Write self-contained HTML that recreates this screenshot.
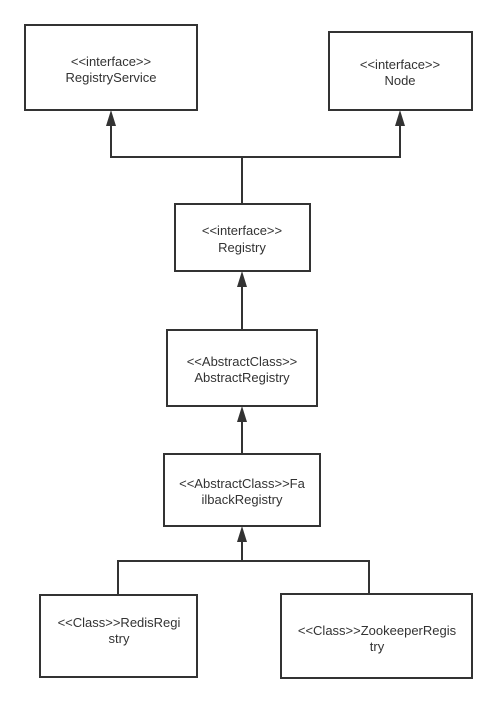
<!DOCTYPE html>
<html><head><style>
html,body{margin:0;padding:0;background:#fff;width:497px;height:703px;overflow:hidden}
text{font-family:"Liberation Sans","DejaVu Sans",sans-serif;font-size:13px;fill:#333;text-anchor:middle}
</style></head><body>
<svg width="497" height="703" viewBox="0 0 497 703" xmlns="http://www.w3.org/2000/svg">
<g fill="none" stroke="#333" stroke-width="2">
<rect x="25" y="25" width="172" height="85"/>
<rect x="329" y="32" width="143" height="78"/>
<rect x="175" y="204" width="135" height="67"/>
<rect x="167" y="330" width="150" height="76"/>
<rect x="164" y="454" width="156" height="72"/>
<rect x="40" y="595" width="157" height="82"/>
<rect x="281" y="594" width="191" height="84"/>
<polyline points="111,124 111,157 400,157 400,124"/>
<line x1="242" y1="157" x2="242" y2="204"/>
<line x1="242" y1="286" x2="242" y2="330"/>
<line x1="242" y1="420" x2="242" y2="454"/>
<line x1="242" y1="540" x2="242" y2="561"/>
<polyline points="118,595 118,561 369,561 369,594"/>
</g>
<g fill="#333">
<polygon points="111,110 106,126 116,126"/>
<polygon points="400,110 395,126 405,126"/>
<polygon points="242,271 237,287 247,287"/>
<polygon points="242,406 237,422 247,422"/>
<polygon points="242,526 237,542 247,542"/>
</g>
<text x="111" y="66">&lt;&lt;interface&gt;&gt;</text>
<text x="111" y="82">RegistryService</text>
<text x="400" y="69">&lt;&lt;interface&gt;&gt;</text>
<text x="400" y="85">Node</text>
<text x="242" y="235">&lt;&lt;interface&gt;&gt;</text>
<text x="242" y="252">Registry</text>
<text x="242" y="366">&lt;&lt;AbstractClass&gt;&gt;</text>
<text x="242" y="382">AbstractRegistry</text>
<text x="242" y="488">&lt;&lt;AbstractClass&gt;&gt;Fa</text>
<text x="242" y="504">ilbackRegistry</text>
<text x="119" y="627">&lt;&lt;Class&gt;&gt;RedisRegi</text>
<text x="119" y="643">stry</text>
<text x="377" y="635">&lt;&lt;Class&gt;&gt;ZookeeperRegis</text>
<text x="377" y="651">try</text>
</svg>
</body></html>
